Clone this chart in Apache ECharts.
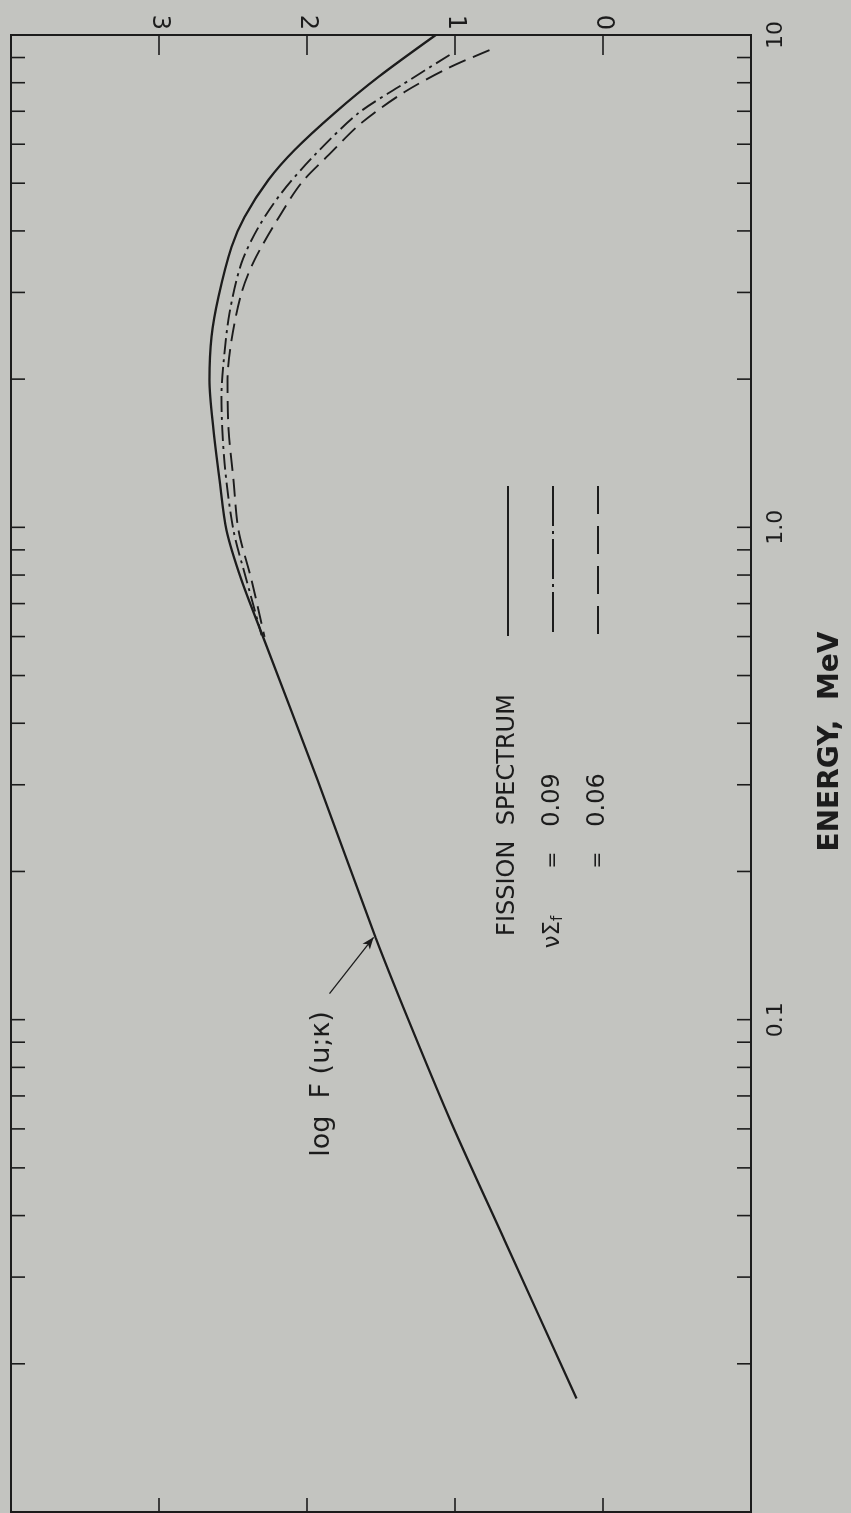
<!DOCTYPE html>
<html><head><meta charset="utf-8">
<script src="https://cdn.jsdelivr.net/npm/echarts@6/dist/echarts.min.js"></script>
<style>html,body{margin:0;padding:0;background:#c3c4c0;}#c{width:851px;height:1513px;}</style>
</head><body><div id="c"></div>
<script>
// ---- data ----
const valueTickLabels = [0, 1, 2, 3];            // log F axis labels
const energyTickLabels = [10, 1, 0.1];            // energy axis labels (MeV)
const energyMinorTicks = [0.02,0.03,0.04,0.05,0.06,0.07,0.08,0.09,0.1,
                          0.2,0.3,0.4,0.5,0.6,0.7,0.8,0.9,1,
                          2,3,4,5,6,7,8,9];

// Fission spectrum (solid)
const fissionE    = [10, 8.22, 6.94, 5.84, 5.08, 4.27, 3.71, 2.94, 2.44, 1.99, 1.58, 1.25, 0.987, 0.782, 0.61, 0.307, 0.147, 0.0998, 0.0617, 0.0357, 0.017];
const fissionLogF = [1.13, 1.517, 1.814, 2.084, 2.26, 2.422, 2.51, 2.598, 2.645, 2.659, 2.632, 2.591, 2.544, 2.443, 2.307, 1.929, 1.537, 1.314, 1.024, 0.666, 0.179];

// nu Sigma_f = 0.09 (dash-dot)
const nu09E    = [9.11, 7.91, 6.94, 5.70, 4.78, 4.07, 3.44, 2.72, 2.16, 1.84, 1.35, 0.987, 0.782, 0.604];
const nu09LogF = [1.037, 1.361, 1.652, 1.949, 2.172, 2.328, 2.443, 2.524, 2.564, 2.578, 2.557, 2.497, 2.409, 2.307];

// nu Sigma_f = 0.06 (dashed)
const nu06E    = [9.32, 8.57, 7.66, 6.63, 5.70, 5.01, 4.25, 3.49, 2.99, 2.40, 1.99, 1.58, 1.25, 0.987, 0.782, 0.599];
const nu06LogF = [0.767, 1.044, 1.341, 1.632, 1.855, 2.037, 2.193, 2.355, 2.443, 2.510, 2.537, 2.530, 2.497, 2.463, 2.375, 2.287];

// annotation arrow for log F(u;k)  [logF, E]
const arrowFrom = [1.848, 0.113];
const arrowTo   = [1.55, 0.147];

// ---- chart ----
const INK = '#1c1c1c';
const FONT = '"DejaVu Sans", "Liberation Sans", sans-serif';
const pairs = (f, e) => f.map((v, i) => [v, e[i]]);
const isDecade = (v, d) => Math.abs(Math.log10(v) - Math.log10(d)) < 1e-6;

const chart = echarts.init(document.getElementById('c'), null, {renderer: 'canvas'});
chart.setOption({
  backgroundColor: '#c3c4c0',
  animation: false,
  grid: {left: 11, right: 100, top: 35, bottom: 1, containLabel: false, outerBoundsMode: 'none',
         show: true, borderColor: INK, borderWidth: 2},
  xAxis: [{
    type: 'value', position: 'top', min: -1, max: 4, interval: 1, inverse: true,
    axisLine: {show: true, onZero: false, lineStyle: {color: INK, width: 2}},
    axisTick: {show: true, inside: true, length: 20, lineStyle: {color: INK, width: 1.6}},
    axisLabel: {rotate: 90, margin: 5, fontSize: 24, color: INK, fontFamily: FONT,
      formatter: v => valueTickLabels.indexOf(v) >= 0 ? String(v) : ''},
    splitLine: {show: false}
  }, {
    type: 'value', position: 'bottom', min: -1, max: 4, interval: 1, inverse: true,
    axisLine: {show: true, onZero: false, lineStyle: {color: INK, width: 2}},
    axisTick: {show: true, inside: true, length: 14, lineStyle: {color: INK, width: 1.6}},
    axisLabel: {show: false}, splitLine: {show: false}
  }],
  yAxis: [{
    type: 'log', logBase: 10, min: 0.01, max: 10, position: 'right',
    axisLine: {show: true, onZero: false, lineStyle: {color: INK, width: 2}},
    axisTick: {show: false},
    axisLabel: {rotate: 90, margin: 14, fontSize: 22, color: INK, fontFamily: FONT,
      formatter: v => {
        for (const d of energyTickLabels) if (isDecade(v, d)) return d === 10 ? '10' : d.toFixed(1);
        return '';
      }},
    splitLine: {show: false},
    name: 'ENERGY,  MeV', nameLocation: 'middle', nameRotate: 90, nameGap: 66,
    nameTextStyle: {fontSize: 28, fontWeight: 'bold', color: INK, fontFamily: FONT, padding: [0, 0, 0, 64]}
  }],
  series: [{
    type: 'custom', silent: true, clip: false, z: 3,
    data: energyMinorTicks.map(e => [0, e]),
    encode: {x: 0, y: 1},
    renderItem: (params, api) => {
      const y = api.coord([0, api.value(1)])[1];
      const cs = params.coordSys;
      const st = {stroke: INK, lineWidth: 1.6};
      return {type: 'group', children: [
        {type: 'line', shape: {x1: cs.x, y1: y, x2: cs.x + 14, y2: y}, style: st},
        {type: 'line', shape: {x1: cs.x + cs.width - 14, y1: y, x2: cs.x + cs.width, y2: y}, style: st}
      ]};
    }
  }, {
    name: 'FISSION SPECTRUM', type: 'line', data: pairs(fissionLogF, fissionE),
    smooth: 0.3, symbol: 'none', lineStyle: {color: INK, width: 2.3},
    markLine: {silent: true, symbol: ['none', 'arrow'], symbolSize: [7, 12],
      lineStyle: {type: 'solid', width: 1.3, color: INK}, label: {show: false},
      data: [[{coord: arrowFrom}, {coord: arrowTo}]]}
  }, {
    name: 'nuSigma_f = 0.09', type: 'line', data: pairs(nu09LogF, nu09E),
    smooth: 0.3, symbol: 'none', lineStyle: {color: INK, width: 1.9, type: [16, 5, 3, 5]}
  }, {
    name: 'nuSigma_f = 0.06', type: 'line', data: pairs(nu06LogF, nu06E),
    smooth: 0.3, symbol: 'none', lineStyle: {color: INK, width: 1.9, type: [18, 8]}
  }],
  graphic: [
    // legend samples
    {type: 'line', shape: {x1: 508, y1: 486, x2: 508, y2: 636}, style: {stroke: INK, lineWidth: 2}},
    {type: 'line', shape: {x1: 553, y1: 486, x2: 553, y2: 636}, style: {stroke: INK, lineWidth: 2, lineDash: [40, 5, 3, 5]}},
    {type: 'line', shape: {x1: 598, y1: 486, x2: 598, y2: 636}, style: {stroke: INK, lineWidth: 2, lineDash: [28, 12]}},
    {type: 'text', x: 508, y: 815, rotation: Math.PI / 2,
      style: {text: 'FISSION  SPECTRUM', fontSize: 24, fontFamily: FONT, fill: INK, align: 'center', verticalAlign: 'middle'}},
    {type: 'text', x: 553, y: 932, rotation: Math.PI / 2,
      style: {text: 'νΣ{s|f}', fontSize: 23, fontFamily: FONT, fill: INK, align: 'center', verticalAlign: 'middle',
        rich: {s: {fontSize: 15, fontFamily: FONT, fill: INK, padding: [10, 0, 0, 0]}}}},
    {type: 'text', x: 553, y: 860, rotation: Math.PI / 2,
      style: {text: '=', fontSize: 20, fontFamily: FONT, fill: INK, align: 'center', verticalAlign: 'middle'}},
    {type: 'text', x: 553, y: 800, rotation: Math.PI / 2,
      style: {text: '0.09', fontSize: 24, fontFamily: FONT, fill: INK, align: 'center', verticalAlign: 'middle'}},
    {type: 'text', x: 598, y: 860, rotation: Math.PI / 2,
      style: {text: '=', fontSize: 20, fontFamily: FONT, fill: INK, align: 'center', verticalAlign: 'middle'}},
    {type: 'text', x: 598, y: 800, rotation: Math.PI / 2,
      style: {text: '0.06', fontSize: 24, fontFamily: FONT, fill: INK, align: 'center', verticalAlign: 'middle'}},
    // annotation label
    {type: 'text', x: 322, y: 1084, rotation: Math.PI / 2,
      style: {text: 'log  F (u;κ)', fontSize: 27, fontFamily: FONT, fill: INK, align: 'center', verticalAlign: 'middle'}}
  ]
});
</script></body></html>
